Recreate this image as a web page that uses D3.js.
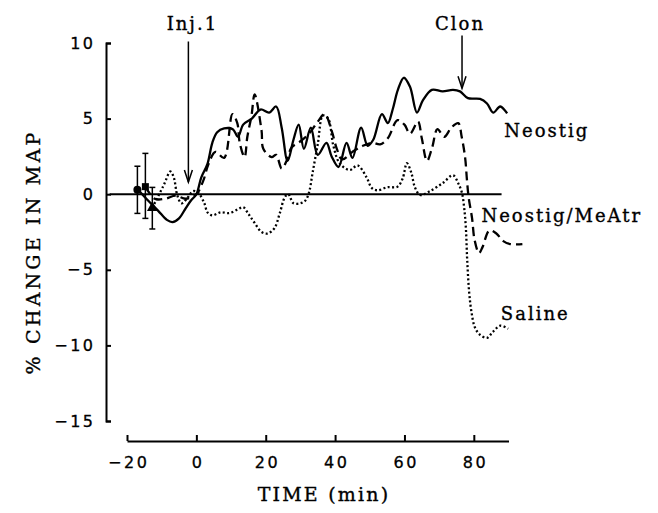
<!DOCTYPE html>
<html>
<head>
<meta charset="utf-8">
<script src="https://cdn.jsdelivr.net/npm/d3@7"></script>
<style>
  body { margin: 0; background: white; }
  .serif { font-family: "DejaVu Serif", serif; stroke: black; stroke-width: 0.35px; }
  .axis text { font-family: "DejaVu Sans", sans-serif; font-size: 16px; letter-spacing: 2.5px; fill: black; stroke: black; stroke-width: 0.3px; }
  .axis path, .axis line { stroke: black; stroke-width: 2; }
</style>
</head>
<body>
<div id="chart"></div>
<script>
// time (min) and % change in MAP for each group
const neostigTime = [-16.8,-14,-11,-8.5,-6.9,-5,-3,-1.5,0,1.4,3.2,4.6,6,8,10.5,12,13.5,16,18.5,21,23,24.6,26.3,28,29.5,31,33,35,37.5,39,41,43.3,45,47.5,49.4,51,53.5,55.2,56.6,58.1,59.8,61.6,63.6,65.3,67.9,71,74,76,78.3,81.8,83.8,85.6,87.6,89.6];
const neostigValue = [0.3,-0.4,-1.1,-1.7,-1.85,-1.6,-0.9,-0.4,0,1.1,2.0,3.4,4.1,4.35,4.3,3.8,4.6,5.0,5.6,5.4,5.8,4.4,2.2,3.6,4.6,3.0,4.4,2.6,3.4,2.5,1.8,3.4,2.4,4.4,3.2,3.6,5.3,4.7,5.6,6.9,7.7,7.1,5.4,6.2,6.9,6.8,6.9,6.8,6.35,6.3,6.0,5.4,5.8,5.35];

const meatrTime = [-14.7,-12,-9,-6,-3,0,2,3.5,5.5,8,10.4,11.8,12.5,13.9,14.7,15.9,16.8,18.8,19.3,21.7,23,24.6,26,27.5,30,32.5,35,37,39,40.5,42,45,48,50.8,53,55.2,58,60,61.6,63.9,65,66.5,68,69.5,71.5,73.5,75.5,76.5,77.5,78,78.5,79.5,80.2,81.5,82.5,84.5,86.5,88.5,90.5,94];
const meatrValue = [0.5,-0.3,-0.3,-0.1,-0.3,0,0.9,2.0,2.8,2.4,5.3,4.7,3.4,2.45,3.8,5.2,6.6,4.2,3.0,2.45,2.6,1.7,2.2,3.1,3.5,4.0,4.8,5.3,4.2,3.0,2.3,2.8,3.2,3.4,3.3,3.7,4.9,4.6,4.0,4.8,3.7,2.2,3.1,4.3,3.8,4.4,4.7,3.8,2.4,1.0,-0.2,-1.6,-3.0,-3.9,-3.5,-2.4,-2.6,-3.1,-3.3,-3.3];

const salineTime = [-12.7,-10.5,-9.2,-7.5,-6.5,-5.5,-4.3,-2.6,-1,0.5,2.3,3.2,4.6,7,9.5,12,13.5,15,16.8,18.8,20.5,22.5,24,25.5,26.5,28,30,31.5,32.5,33.5,35,36.5,38,39.5,41.3,44.2,46.5,49.1,50.6,52.3,55,58,59.5,60.7,62,63,64.5,67.3,71,74,75.5,76.6,77.2,77.7,78.1,78.7,79.4,80.3,81.8,83.8,85.5,87.6,89.9];
const salineValue = [-0.9,0.1,0.7,1.5,1.1,-0.07,-0.6,-0.26,0.2,0.1,-0.6,-1.2,-1.4,-1.2,-1.25,-1.0,-0.86,-1.3,-1.9,-2.5,-2.6,-2.25,-1.3,-0.2,0.0,-0.6,-0.6,-0.4,0.13,1.4,3.3,5.2,5.0,3.2,2.05,1.6,1.9,1.1,0.4,0.26,0.46,0.5,1.05,2.05,1.4,0.46,-0.05,0.2,0.73,1.25,0.73,0.07,-0.86,-2.2,-4.4,-6.6,-7.9,-8.8,-9.3,-9.5,-9.1,-8.7,-8.9];

// baseline points with error bars (circle, square, triangle)
const baseTime = [-17, -14.7, -12.7];
const baseValue = [0.3, 0.5, -0.9];
const baseHigh = [1.85, 2.7, 0.45];
const baseLow = [-1.27, -1.6, -2.3];
const baseShape = ["circle", "square", "triangle"];

// injection arrows
const arrowLabels = ["Inj.1", "Clon"];
const arrowTime = [-2.3, 76.6];
const arrowTop = [10.1, 10.5];
const arrowTip = [0.8, 7.0];

const xTicks = [-20, 0, 20, 40, 60, 80];
const yTicks = [10, 5, 0, -5, -10, -15];
const zeroLine = [-25, 88];

const width = 658, height = 513;

const svg = d3.select("#chart")
    .append("svg")
    .attr("width", width)
    .attr("height", height)
    .style("background-color", "white");

const xScale = d3.scaleLinear().domain([-20, 90]).range([127, 508.5]);
const yScale = d3.scaleLinear().domain([-15, 10]).range([421, 43]);

//axes
const yAxis = d3.axisLeft(yScale)
    .tickValues(yTicks)
    .tickSize(-5)
    .tickSizeOuter(-5)
    .tickPadding(13)
    .tickFormat(d => d < 0 ? "\u2212" + Math.abs(d) : d);

svg.append("g")
    .attr("class", "axis")
    .attr("transform", "translate(106,0)")
    .call(yAxis);

const xAxis = d3.axisBottom(xScale)
    .tickValues(xTicks)
    .tickSize(-6)
    .tickSizeOuter(0)
    .tickPadding(16)
    .tickFormat(d => d < 0 ? "\u2212" + Math.abs(d) : d);

svg.append("g")
    .attr("class", "axis")
    .attr("transform", "translate(0,441)")
    .call(xAxis);

svg.selectAll(".axis .tick text").attr("dx", function() {
    return d3.select(this.parentNode.parentNode).attr("transform").startsWith("translate(0,") ? "1.2" : "2.5";
});

//zero line
svg.append("line")
    .attr("x1", xScale(zeroLine[0]))
    .attr("x2", xScale(zeroLine[1]))
    .attr("y1", yScale(0))
    .attr("y2", yScale(0))
    .attr("stroke", "black")
    .attr("stroke-width", 2);

//curves
const series = [
    { t: neostigTime, v: neostigValue, dash: null },
    { t: meatrTime, v: meatrValue, dash: "9,5" },
    { t: salineTime, v: salineValue, dash: "2,2.4" }
];

const lineGenerator = d3.line()
    .x(d => xScale(d[0]))
    .y(d => yScale(d[1]))
    .curve(d3.curveCatmullRom.alpha(0.5));

series.forEach(s => {
    svg.append("path")
        .datum(s.t.map((t, i) => [t, s.v[i]]))
        .attr("d", lineGenerator)
        .attr("fill", "none")
        .attr("stroke", "black")
        .attr("stroke-width", 2.3)
        .attr("stroke-dasharray", s.dash);
});

//error bars
baseTime.forEach((t, i) => {
    const x = xScale(t);
    const g = svg.append("g").attr("stroke", "black").attr("stroke-width", 1.5);
    g.append("line").attr("x1", x).attr("x2", x).attr("y1", yScale(baseHigh[i])).attr("y2", yScale(baseLow[i]));
    [baseHigh[i], baseLow[i]].forEach(v => {
        g.append("line").attr("x1", x - 3).attr("x2", x + 3).attr("y1", yScale(v)).attr("y2", yScale(v));
    });
    const y = yScale(baseValue[i]);
    if (baseShape[i] === "circle") {
        svg.append("circle").attr("cx", x).attr("cy", y).attr("r", 4).attr("fill", "black");
    } else if (baseShape[i] === "square") {
        svg.append("rect").attr("x", x - 3.5).attr("y", y - 3.5).attr("width", 7).attr("height", 7).attr("fill", "black");
    } else {
        svg.append("path").attr("d", d3.symbol(d3.symbolTriangle, 50)()).attr("transform", `translate(${x},${y})`).attr("fill", "black");
    }
});

//arrows
arrowTime.forEach((t, i) => {
    const x = xScale(t);
    const yTip = yScale(arrowTip[i]);
    const g = svg.append("g").attr("stroke", "black").attr("stroke-width", 1.5).attr("fill", "none");
    g.append("line").attr("x1", x).attr("x2", x).attr("y1", yScale(arrowTop[i])).attr("y2", yTip);
    g.append("path").attr("d", `M${x - 4},${yTip - 12}L${x},${yTip}L${x + 4},${yTip - 12}`);
    svg.append("text")
        .attr("class", "serif")
        .attr("x", x + (i === 0 ? 4 : -2))
        .attr("y", 30)
        .attr("text-anchor", "middle")
        .attr("font-size", 18)
        .attr("letter-spacing", 2)
        .text(arrowLabels[i]);
});

//series labels
const labels = [
    { text: "Neostig", t: 88.8, v: 3.8 },
    { text: "Neostig/MeAtr", t: 82.2, v: -1.85 },
    { text: "Saline", t: 87.8, v: -8.3 }
];

svg.selectAll(".series-label")
    .data(labels)
    .enter()
    .append("text")
    .attr("class", "series-label serif")
    .attr("x", d => xScale(d.t))
    .attr("y", d => yScale(d.v))
    .attr("font-size", 18)
    .attr("letter-spacing", 2)
    .text(d => d.text);

//axis titles
svg.append("text")
    .attr("class", "serif")
    .attr("x", 324)
    .attr("y", 501)
    .attr("text-anchor", "middle")
    .attr("font-size", 19)
    .attr("letter-spacing", 2.2)
    .text("TIME (min)");

svg.append("text")
    .attr("class", "serif")
    .attr("transform", "translate(40,252) rotate(-90)")
    .attr("text-anchor", "middle")
    .attr("font-size", 19)
    .attr("letter-spacing", 3.2)
    .text("% CHANGE IN MAP");
</script>
</body>
</html>
